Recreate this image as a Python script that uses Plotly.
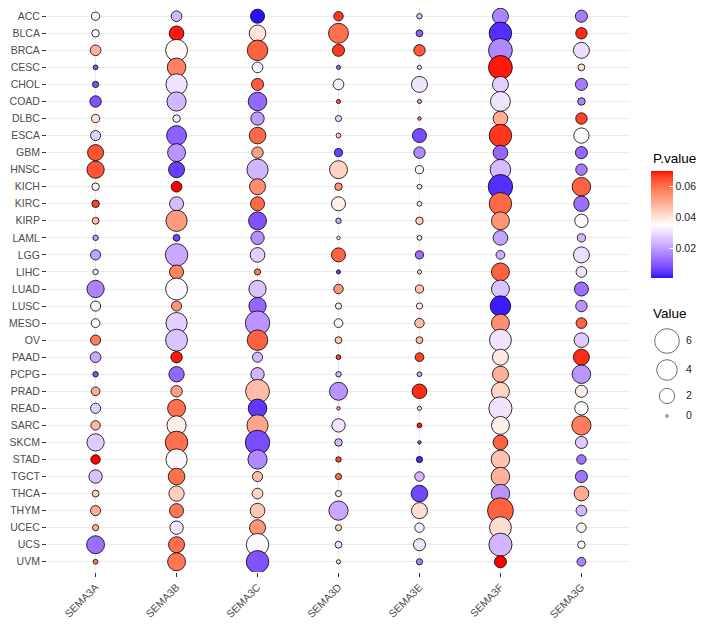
import numpy as np
import plotly.graph_objects as go

genes = ["SEMA3A", "SEMA3B", "SEMA3C", "SEMA3D", "SEMA3E", "SEMA3F", "SEMA3G"]
cancers = ["ACC", "BLCA", "BRCA", "CESC", "CHOL", "COAD", "DLBC", "ESCA", "GBM", "HNSC",
           "KICH", "KIRC", "KIRP", "LAML", "LGG", "LIHC", "LUAD", "LUSC", "MESO", "OV",
           "PAAD", "PCPG", "PRAD", "READ", "SARC", "SKCM", "STAD", "TGCT", "THCA", "THYM",
           "UCEC", "UCS", "UVM"]

# Value (bubble size) per gene, in cancer order
val_SEMA3A = [0.38, 0.30, 0.81, 0.06, 0.16, 0.96, 0.38, 0.70, 2.22, 2.66, 0.30, 0.30, 0.22, 0.10, 0.70, 0.10, 2.66,
              0.70, 0.47, 0.70, 0.81, 0.10, 0.47, 0.70, 0.58, 2.66, 0.58, 1.43, 0.22, 0.70, 0.16, 2.91, 0.06]
val_SEMA3B = [0.81, 1.79, 4.59, 3.14, 4.27, 3.41, 0.30, 3.70, 2.91, 2.22, 0.81, 1.62, 4.27, 0.22, 4.87, 1.62, 4.59,
              0.70, 4.27, 4.59, 0.96, 2.00, 0.96, 2.91, 3.41, 4.87, 4.27, 2.42, 2.00, 1.62, 1.43, 2.22, 2.91]
val_SEMA3C = [1.62, 2.42, 3.96, 0.81, 1.11, 3.14, 1.43, 2.42, 0.96, 4.27, 2.22, 1.62, 2.91, 1.43, 1.79, 0.16, 2.66,
              2.66, 5.88, 3.96, 0.70, 1.43, 5.56, 3.14, 4.27, 5.88, 3.41, 0.70, 0.81, 1.79, 2.22, 4.87, 4.87]
val_SEMA3D = [0.58, 3.70, 1.11, 0.03, 0.81, 0.03, 0.16, 0.06, 0.38, 2.91, 0.30, 1.62, 0.10, 0.01, 1.62, 0.03, 0.58,
              0.16, 0.47, 0.22, 0.06, 0.10, 2.91, 0.01, 1.43, 0.30, 0.10, 0.16, 0.16, 3.41, 0.16, 0.22, 0.03]
val_SEMA3E = [0.10, 0.22, 0.96, 0.03, 2.22, 0.03, 0.01, 1.62, 0.96, 0.38, 0.06, 0.06, 0.30, 0.06, 0.38, 0.03, 0.38,
              0.16, 0.58, 0.22, 0.47, 0.06, 1.79, 0.03, 0.06, 0.01, 0.16, 0.58, 2.42, 2.22, 0.58, 1.11, 0.16]
val_SEMA3F = [2.22, 4.87, 5.56, 5.56, 2.22, 3.70, 1.79, 4.87, 1.79, 3.96, 5.88, 4.87, 2.91, 1.79, 0.47, 2.91, 2.91,
              3.96, 2.91, 4.59, 2.22, 2.22, 2.91, 5.21, 2.91, 1.79, 3.14, 3.14, 3.14, 6.64, 4.59, 5.21, 1.11]
val_SEMA3G = [1.11, 0.96, 2.22, 0.22, 1.11, 0.30, 0.96, 2.00, 1.11, 0.96, 3.14, 2.00, 1.43, 0.38, 2.22, 0.81, 1.62,
              0.96, 0.81, 1.79, 2.22, 3.14, 1.11, 1.43, 3.41, 1.11, 0.58, 1.11, 1.79, 0.81, 0.58, 0.30, 0.47]

# P.value (bubble colour) per gene, in cancer order
p_SEMA3A = [0.034, 0.034, 0.049, 0.009, 0.009, 0.009, 0.041, 0.028, 0.064, 0.064, 0.037, 0.066, 0.047, 0.020, 0.021,
            0.031, 0.016, 0.033, 0.035, 0.058, 0.022, 0.009, 0.050, 0.028, 0.048, 0.027, 0.070, 0.026, 0.043, 0.050,
            0.049, 0.013, 0.058]
p_SEMA3B = [0.024, 0.069, 0.036, 0.057, 0.031, 0.024, 0.031, 0.011, 0.019, 0.006, 0.070, 0.025, 0.053, 0.007, 0.022,
            0.057, 0.034, 0.054, 0.028, 0.026, 0.069, 0.012, 0.052, 0.060, 0.038, 0.060, 0.034, 0.060, 0.044, 0.059,
            0.031, 0.060, 0.059]
p_SEMA3C = [0.001, 0.040, 0.062, 0.033, 0.063, 0.012, 0.020, 0.061, 0.052, 0.024, 0.055, 0.061, 0.009, 0.018, 0.028,
            0.058, 0.026, 0.012, 0.019, 0.062, 0.024, 0.024, 0.047, 0.005, 0.051, 0.008, 0.017, 0.047, 0.043, 0.045,
            0.054, 0.034, 0.009]
p_SEMA3D = [0.067, 0.060, 0.067, 0.012, 0.033, 0.064, 0.029, 0.045, 0.006, 0.043, 0.054, 0.038, 0.022, 0.033, 0.062,
            0.006, 0.054, 0.032, 0.033, 0.045, 0.066, 0.024, 0.019, 0.052, 0.031, 0.024, 0.065, 0.061, 0.031, 0.022,
            0.043, 0.030, 0.029]
p_SEMA3E = [0.025, 0.011, 0.063, 0.029, 0.031, 0.052, 0.058, 0.008, 0.017, 0.037, 0.038, 0.038, 0.044, 0.040, 0.013,
            0.042, 0.046, 0.037, 0.047, 0.047, 0.066, 0.022, 0.068, 0.029, 0.069, 0.010, 0.003, 0.024, 0.007, 0.041,
            0.032, 0.031, 0.016]
p_SEMA3F = [0.016, 0.004, 0.017, 0.069, 0.028, 0.031, 0.050, 0.067, 0.012, 0.025, 0.004, 0.061, 0.054, 0.021, 0.023,
            0.062, 0.026, 0.002, 0.055, 0.031, 0.039, 0.049, 0.043, 0.031, 0.038, 0.062, 0.046, 0.049, 0.019, 0.062,
            0.041, 0.024, 0.070]
p_SEMA3G = [0.015, 0.068, 0.030, 0.041, 0.015, 0.016, 0.066, 0.035, 0.012, 0.015, 0.062, 0.013, 0.034, 0.024, 0.030,
            0.031, 0.013, 0.019, 0.062, 0.027, 0.068, 0.019, 0.038, 0.034, 0.058, 0.027, 0.014, 0.014, 0.050, 0.024,
            0.037, 0.035, 0.016]

size_breaks = [6, 4, 2, 0]
pvalue_ticks = [0.02, 0.04, 0.06]
p_midpoint = 0.035

values = [val_SEMA3A, val_SEMA3B, val_SEMA3C, val_SEMA3D, val_SEMA3E, val_SEMA3F, val_SEMA3G]
pvals = [p_SEMA3A, p_SEMA3B, p_SEMA3C, p_SEMA3D, p_SEMA3E, p_SEMA3F, p_SEMA3G]


# ---------- colour scale: blue-white-red interpolated in CIELAB (like ggplot gradient2) ----------
def srgb_to_lin(c):
    c = np.asarray(c, float) / 255.0
    return np.where(c <= 0.04045, c / 12.92, ((c + 0.055) / 1.055) ** 2.4)


def lin_to_srgb(c):
    c = np.clip(c, 0, 1)
    v = np.where(c <= 0.0031308, c * 12.92, 1.055 * c ** (1 / 2.4) - 0.055)
    return np.clip(np.round(v * 255), 0, 255).astype(int)


M = np.array([[0.4124564, 0.3575761, 0.1804375],
              [0.2126729, 0.7151522, 0.0721750],
              [0.0193339, 0.1191920, 0.9503041]])
Minv = np.linalg.inv(M)
WP = np.array([0.95047, 1.0, 1.08883])


def f_lab(t):
    d = 6 / 29
    return np.where(t > d ** 3, np.cbrt(t), t / (3 * d * d) + 4 / 29)


def finv_lab(t):
    d = 6 / 29
    return np.where(t > d, t ** 3, 3 * d * d * (t - 4 / 29))


def rgb_to_lab(rgb):
    xyz = M @ srgb_to_lin(rgb) / WP
    fx, fy, fz = f_lab(xyz)
    return np.array([116 * fy - 16, 500 * (fx - fy), 200 * (fy - fz)])


def lab_to_rgb(lab):
    L, a, b = lab
    fy = (L + 16) / 116
    fx = fy + a / 500
    fz = fy - b / 200
    xyz = finv_lab(np.array([fx, fy, fz])) * WP
    return lin_to_srgb(Minv @ xyz)


lab_blue = rgb_to_lab([0, 0, 255])
lab_white = rgb_to_lab([255, 255, 255])
lab_red = rgb_to_lab([255, 0, 0])

all_p = np.concatenate([np.array(p) for p in pvals])
cmin, cmax = float(all_p.min()), float(all_p.max())
maxdev = max(abs(cmin - p_midpoint), abs(cmax - p_midpoint))

colorscale = []
for t in np.linspace(0, 1, 41):
    x = cmin + t * (cmax - cmin)
    s = min(max((x - p_midpoint) / (2 * maxdev) + 0.5, 0), 1)
    if s < 0.5:
        lab = lab_blue + (lab_white - lab_blue) * (s / 0.5)
    else:
        lab = lab_white + (lab_red - lab_white) * ((s - 0.5) / 0.5)
    r, g, b = lab_to_rgb(lab)
    colorscale.append([float(t), f"rgb({r},{g},{b})"])


# ---------- size scale (area-like, similar to ggplot scale_size) ----------
def size_px(v):
    return 2.6 + 9.0 * np.sqrt(np.asarray(v, float))


xs, ys, vs, ps = [], [], [], []
for g, vals, pv in zip(genes, values, pvals):
    for c, v, p in zip(cancers, vals, pv):
        xs.append(g)
        ys.append(c)
        vs.append(v)
        ps.append(p)

# The page body adds an 8px offset, so the figure is drawn 8px smaller and
# all layout positions (given in page pixels) are converted accordingly.
OFF = 8
W, H = 715 - OFF, 625 - OFF
PL, PR, PT, PB = 47, 630, 6, 572  # ggplot panel edges in page px


def py(v):  # page pixel y -> paper y
    return 1 - (v - OFF) / H


def px(v):  # page pixel x -> paper x
    return (v - OFF) / W


n_y = len(cancers)
y_units_per_px = (n_y - 1 + 1.2) / (PB - PT)
top_px = max(PT, OFF)
y_top_val = -0.6 + (top_px - PT) * y_units_per_px

fig = go.Figure()
fig.add_trace(go.Scatter(
    x=xs, y=ys, mode="markers",
    marker=dict(
        size=size_px(vs), sizemode="diameter",
        color=ps, colorscale=colorscale, cmin=cmin, cmax=cmax,
        line=dict(color="black", width=0.8), opacity=1,
        showscale=True,
        colorbar=dict(
            thickness=22, thicknessmode="pixels",
            len=107, lenmode="pixels",
            x=px(651), xanchor="left", y=py(224.5), yanchor="middle",
            xpad=0, ypad=0, outlinewidth=0,
            tickvals=pvalue_ticks, ticktext=[f"{t:.2f}" for t in pvalue_ticks],
            ticks="inside", tickcolor="white", ticklen=4, tickwidth=1,
            tickfont=dict(size=10.5, color="#1A1A1A"),
        ),
    ),
    hoverinfo="skip", showlegend=False,
))

# size legend (x2/y2 are page-pixel coordinates of the right-hand legend strip)
key_y = [341, 370, 396, 416]
fig.add_trace(go.Scatter(
    x=[667] * len(size_breaks), y=key_y, mode="markers",
    marker=dict(size=size_px(size_breaks), color="white", line=dict(color="black", width=0.8)),
    xaxis="x2", yaxis="y2", hoverinfo="skip", showlegend=False,
))
fig.add_trace(go.Scatter(
    x=[686] * len(size_breaks), y=key_y, mode="text",
    text=[str(b) for b in size_breaks], textposition="middle right",
    textfont=dict(size=10.5, color="#1A1A1A"),
    xaxis="x2", yaxis="y2", hoverinfo="skip", showlegend=False,
))

fig.add_annotation(text="P.value", x=px(651), y=py(158), xref="paper", yref="paper",
                   xanchor="left", yanchor="middle", showarrow=False,
                   font=dict(size=13.5, color="black"))
fig.add_annotation(text="Value", x=px(651), y=py(313), xref="paper", yref="paper",
                   xanchor="left", yanchor="middle", showarrow=False,
                   font=dict(size=13.5, color="black"))

fig.update_layout(
    width=W, height=H,
    margin=dict(l=0, r=0, t=0, b=0),
    paper_bgcolor="white", plot_bgcolor="white",
    font=dict(family="Liberation Sans, Arial, sans-serif"),
    showlegend=False,
    xaxis=dict(
        domain=[px(PL), px(PR)], type="category", categoryorder="array", categoryarray=genes,
        range=[-0.6, len(genes) - 0.4], showgrid=True, gridcolor="#EBEBEB", gridwidth=1,
        zeroline=False, showline=False, ticks="outside", ticklen=4, tickcolor="#333333",
        tickangle=-45, tickfont=dict(size=10.5, color="#4D4D4D"), automargin=False, fixedrange=True,
    ),
    yaxis=dict(
        domain=[py(PB), py(top_px)], type="category", categoryorder="array", categoryarray=cancers,
        range=[n_y - 0.4, y_top_val], showgrid=True, gridcolor="#EBEBEB", gridwidth=1,
        zeroline=False, showline=False, ticks="outside", ticklen=4, tickcolor="#333333",
        tickfont=dict(size=10.5, color="#4D4D4D"), automargin=False, fixedrange=True,
    ),
    xaxis2=dict(domain=[px(640), 1], range=[640, OFF + W], visible=False, anchor="y2", fixedrange=True),
    yaxis2=dict(domain=[0, 1], range=[OFF + H, OFF], visible=False, anchor="x2", fixedrange=True),
)

fig.write_html("out.html")
